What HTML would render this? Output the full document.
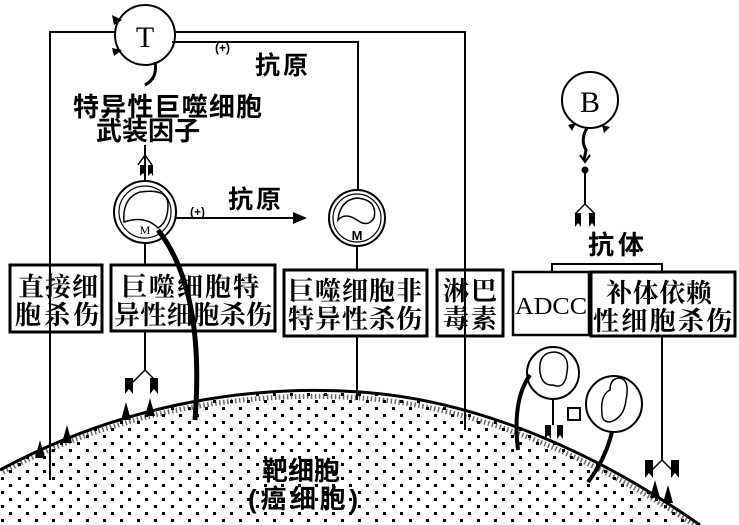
<!DOCTYPE html>
<html><head><meta charset="utf-8"><style>
html,body{margin:0;padding:0;background:#fff;}
svg{display:block;}
text{font-family:"Liberation Serif","Noto Serif CJK SC","Noto Sans CJK SC",serif;fill:#000;}
.b{font-family:"Liberation Sans","Noto Sans CJK SC",sans-serif;font-weight:bold;}
</style></head><body>
<svg width="739" height="525" viewBox="0 0 739 525" xmlns="http://www.w3.org/2000/svg">
<defs>
<pattern id="dots" width="17" height="14" patternUnits="userSpaceOnUse">
<rect x="1" y="1" width="3" height="3" fill="#000"/>
<rect x="9" y="8" width="3" height="3" fill="#000"/>
</pattern>
<marker id="ar" markerWidth="8" markerHeight="8" refX="6" refY="4" orient="auto"><path d="M0,1 L7,4 L0,7 Z" fill="#000"/></marker>
</defs>
<g stroke="#000" fill="none" stroke-width="2">
<path d="M0,470 C130,400 260,385 360,392 C480,400 600,455 700,525 L739,525 L0,525 Z" fill="url(#dots)" stroke="none"/>
<path d="M0,470 C130,400 260,385 360,392 C480,400 600,455 700,525" stroke-width="3"/>
<path d="M3,472 C130,405 260,391 360,398 C480,406 600,461 700,529" stroke-width="5" stroke-dasharray="1.5 2.5" opacity="0.6"/>
<path d="M115,32 H50 V480"/>
<path d="M175,32 H465 V430"/>
<path d="M172,42 H358 V190"/>
<circle cx="145" cy="35" r="30"/>
<path d="M155,62 Q158,78 145,85" stroke-width="3"/>
<line x1="145" y1="145" x2="145" y2="181"/>
<path d="M138,165 L145,155 L152,165" stroke-width="1.5"/>
<circle cx="145" cy="212" r="31"/>
<circle cx="145" cy="212" r="26" stroke-width="1.2"/>
<path d="M124,222 Q122,198 140,192 Q168,188 168,205 Q168,222 158,228 Q145,215 124,222Z" stroke-width="1.5"/>
<line x1="176" y1="218" x2="305" y2="218" marker-end="url(#ar)"/>
<line x1="145" y1="243" x2="145" y2="265"/>
<path d="M158,230 Q205,290 195,420" stroke-width="5"/>
<circle cx="357" cy="218" r="28"/>
<circle cx="357" cy="218" r="24" stroke-width="1.2"/>
<path d="M338,220 Q340,200 357,198 Q378,200 374,218 Q368,228 357,220 Q345,212 338,220Z" stroke-width="1.5"/>
<line x1="357" y1="246" x2="357" y2="270"/>
<rect x="10" y="265" width="92" height="67" stroke-width="3"/>
<rect x="111" y="265" width="164" height="66" stroke-width="3"/>
<rect x="284" y="270" width="143" height="66" stroke-width="3"/>
<rect x="437" y="270" width="66" height="66" stroke-width="3"/>
<rect x="513" y="272" width="76" height="63" stroke-width="2.5"/>
<rect x="591" y="272" width="144" height="64" stroke-width="3"/>
<path d="M552,272 V264 H662 V272"/>
<line x1="145" y1="331" x2="145" y2="370"/>
<path d="M133,382 L145,370 L157,382" stroke-width="1.5"/>
<line x1="357" y1="336" x2="357" y2="400"/>
<line x1="465" y1="336" x2="465" y2="430"/>
<line x1="662" y1="336" x2="662" y2="460"/>
<path d="M650,472 L662,460 L674,472" stroke-width="1.5"/>
<circle cx="590" cy="100" r="28"/>
<path d="M587,128 Q580,140 586,150 L584,160" stroke-width="3"/>
<path d="M580,155 L585,162 L590,155" stroke-width="2"/>
<circle cx="585" cy="170" r="2.5" fill="#000"/>
<line x1="585" y1="172" x2="585" y2="204"/>
<path d="M575,214 L585,204 L595,214" stroke-width="1.5"/>
<circle cx="553" cy="373" r="26"/>
<path d="M540,372 Q538,352 555,352 Q570,354 567,372 Q565,390 553,385 Q542,386 540,372Z" stroke-width="1.5"/>
<circle cx="614" cy="404" r="28"/>
<path d="M602,414 Q600,395 610,390 Q610,378 620,378 Q630,380 626,400 Q624,418 610,422 Q602,422 602,414Z" stroke-width="1.5"/>
<path d="M530,375 Q512,400 518,450" stroke-width="4"/>
<path d="M612,432 Q605,460 588,482" stroke-width="4"/>
<line x1="553" y1="399" x2="553" y2="425"/>
<rect x="568" y="408" width="12" height="12" stroke-width="2"/>
</g>
<g fill="#000">
<path d="M125,378 h8 v16 l-4,-5 l-4,5z"/><path d="M150,378 h8 v16 l-4,-5 l-4,5z"/>
<path d="M150,398 l5,18 h-10z"/><path d="M126,402 l5,18 h-10z"/>
<path d="M40,440 l5,18 h-10z"/><path d="M67,425 l5,18 h-10z"/>
<path d="M575,213 h6 v14 l-3,-4 l-3,4z"/><path d="M589,213 h6 v14 l-3,-4 l-3,4z"/>
<path d="M140,165 h5 v11 l-2,-3 l-3,3z"/><path d="M148,165 h5 v11 l-2,-3 l-3,3z"/>
<path d="M645,460 h8 v18 l-4,-5 l-4,5z"/><path d="M671,460 h8 v18 l-4,-5 l-4,5z"/>
<path d="M655,480 l5,18 h-10z"/><path d="M668,485 l5,18 h-10z"/>
<path d="M545,425 h6 v14 l-3,-4 l-3,4z"/><path d="M557,425 h6 v14 l-3,-4 l-3,4z"/>
<path d="M112,15 l10,5 l-8,5z"/><path d="M112,48 l10,2 l-8,6z"/>
<path d="M568,125 l8,-2 l-4,8z"/><path d="M602,125 l8,2 l-6,6z"/>
</g>
<text x="145" y="47" font-size="30" text-anchor="middle">T</text>
<text x="590" y="112" font-size="30" text-anchor="middle">B</text>
<text x="145" y="234" font-size="12" text-anchor="middle">M</text>
<text x="357" y="240" font-size="13" text-anchor="middle" class="b">M</text>
<text x="215" y="52" font-size="12" class="b">(+)</text>
<text x="255" y="74" font-size="25" class="b" textLength="53">抗原</text>
<text x="190" y="216" font-size="12" class="b">(+)</text>
<text x="228" y="208" font-size="25" class="b" textLength="53">抗原</text>
<text x="73" y="116" font-size="26" class="b" textLength="189">特异性巨噬细胞</text>
<text x="96" y="140" font-size="26" class="b" textLength="104">武装因子</text>
<text x="588" y="254" font-size="26" class="b" textLength="56">抗体</text>
<g font-size="26" class="b">
<text x="18" y="296" textLength="80">直接细</text><text x="15" y="324" textLength="84">胞杀伤</text>
<text x="121" y="296" textLength="138">巨噬细胞特</text><text x="114" y="324" textLength="158">异性细胞杀伤</text>
<text x="288" y="300" textLength="134">巨噬细胞非</text><text x="288" y="328" textLength="134">特异性杀伤</text>
<text x="443" y="300" textLength="54">淋巴</text><text x="443" y="328" textLength="54">毒素</text>
<text x="606" y="302" textLength="106">补体依赖</text><text x="593" y="330" textLength="139">性细胞杀伤</text>
</g>
<text x="515" y="314" font-size="24" textLength="72" lengthAdjust="spacingAndGlyphs">ADCC</text>
<text x="262" y="480" font-size="26" class="b" textLength="78">靶细胞</text>
<text x="248" y="508" font-size="26" class="b" textLength="110">(癌细胞)</text>
</svg>
</body></html>
